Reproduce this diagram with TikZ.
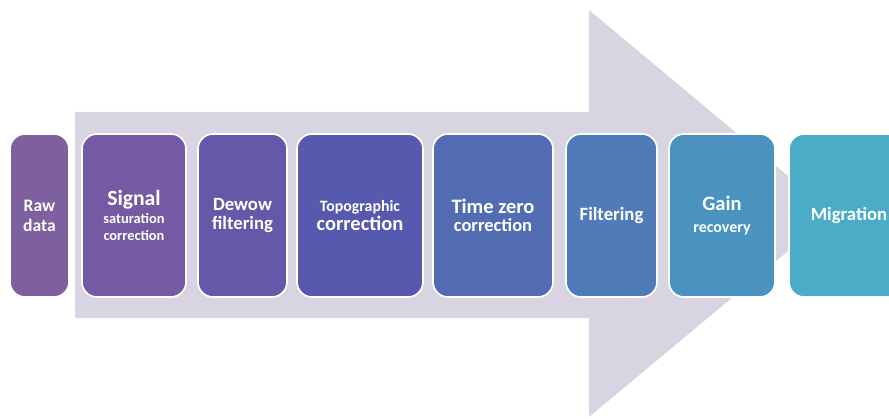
\documentclass[tikz,border=0pt]{standalone}
\usepackage{fontspec}
\setmainfont{Carlito}
\definecolor{arrowgrey}{HTML}{D8D4E2}
\definecolor{rawcol}{HTML}{7E5FA0}
\definecolor{sigcol}{HTML}{7559A3}
\definecolor{dewcol}{HTML}{6657A8}
\definecolor{topcol}{HTML}{5659AD}
\definecolor{timcol}{HTML}{526CB4}
\definecolor{filcol}{HTML}{4F7CB9}
\definecolor{gaicol}{HTML}{4A92BF}
\definecolor{migcol}{HTML}{4AACC6}
\newcommand{\fsz}[2]{\fontsize{#1}{#2}\selectfont}
\tikzset{
  stage/.style={draw=white, line width=0.5mm, rounded corners=4.5mm,
    minimum height=48.9mm, text=white, align=center, inner sep=0pt}
}
\begin{document}
\begin{tikzpicture}[x=0.3mm,y=-0.3mm]
\useasboundingbox (0,0) rectangle (889,419);
% big arrow behind the steps
\fill[arrowgrey] (75,112) -- (589,112) -- (589,10) -- (833,213.5)
  -- (589,417) -- (589,318) -- (75,318) -- cycle;
\node[stage, fill=rawcol, minimum width=17.7mm, font=\bfseries\fsz{15}{17}]
  (raw) at (39.5,215.5) {Raw\\data};
\node[stage, fill=sigcol, minimum width=31.2mm, font=\bfseries\fsz{12.3}{15}]
  (sig) at (134,215.5) {\fsz{18.5}{15}Signal\\saturation\\correction};
\node[stage, fill=dewcol, minimum width=26.7mm, font=\bfseries\fsz{16}{17}]
  (dew) at (242.5,215.5) {Dewow\\filtering};
\node[stage, fill=topcol, minimum width=37.8mm, font=\bfseries\fsz{13.5}{16}]
  (top) at (360,215.5) {Topographic\\\fsz{17.5}{16}correction};
\node[stage, fill=timcol, minimum width=36mm, font=\bfseries\fsz{15.8}{16}]
  (tim) at (493,215.5) {\fsz{17.5}{16}Time zero\\correction};
\node[stage, fill=filcol, minimum width=27.3mm, font=\bfseries\fsz{16}{17}]
  (fil) at (611.5,215.5) {Filtering};
\node[stage, fill=gaicol, minimum width=31.8mm, font=\bfseries\fsz{13.6}{19}]
  (gai) at (722,215.5) {\fsz{17.5}{19}Gain\\recovery};
\node[stage, fill=migcol, minimum width=36mm, font=\bfseries\fsz{16}{17}]
  (mig) at (849,215.5) {Migration};
\end{tikzpicture}
\end{document}
